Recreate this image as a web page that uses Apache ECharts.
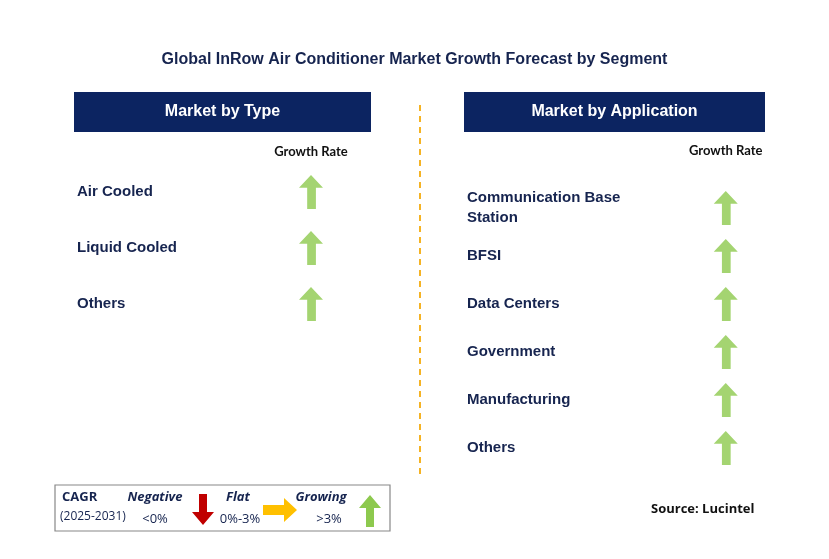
<!DOCTYPE html>
<html><head><meta charset="utf-8">
<script src="https://cdn.jsdelivr.net/npm/echarts@6/dist/echarts.min.js"></script>
<style>html,body{margin:0;padding:0;background:#fff}#c{width:829px;height:559px}</style>
</head><body><div id="c"></div>
<script>
const title = 'Global InRow Air Conditioner Market Growth Forecast by Segment';
const typeCategories = ['Air Cooled', 'Liquid Cooled', 'Others'];
const typeGrowth = ['up', 'up', 'up'];
const appCategories = ['Communication Base\nStation', 'BFSI', 'Data Centers', 'Government', 'Manufacturing', 'Others'];
const appGrowth = ['up', 'up', 'up', 'up', 'up', 'up'];
const colHeader = ['', 'Growth Rate'];

const NAVY = '#0c2461', TXT = '#16244f', GREEN = '#8dc94e';
const UP = 'path://M10,0 L21,12 L14.5,12 L14.5,32 L6.5,32 L6.5,12 L-1,12 Z';
const FONT = 'Liberation Sans';

function panel(idx, cats, growth, margin) {
  return {
    x: {gridIndex: idx, type: 'category', data: colHeader, position: 'top',
        axisLine: {show: false}, axisTick: {show: false}, splitLine: {show: false},
        axisLabel: {margin: margin, color: '#111', fontFamily: 'Lato', fontWeight: 'bold', fontSize: 13}},
    y: {gridIndex: idx, type: 'category', data: cats, inverse: true,
        axisLine: {show: false}, axisTick: {show: false}, splitLine: {show: false},
        axisLabel: {inside: true, margin: 0, align: 'left', color: TXT, fontFamily: FONT,
          fontWeight: 'bold', fontSize: 15, lineHeight: 20}},
    s: {type: 'scatter', xAxisIndex: idx, yAxisIndex: idx, symbol: UP, symbolSize: [24, 34],
        itemStyle: {color: GREEN}, silent: true,
        data: cats.map((c, i) => growth[i] === 'up' ? [colHeader[1], c] : null).filter(Boolean)}
  };
}
const L = panel(0, typeCategories, typeGrowth, 6);
const R = panel(1, appCategories, appGrowth, 27);

const chart = echarts.init(document.getElementById('c'));
chart.setOption({
  animation: false,
  title: {text: title, left: 'center', top: 47, textStyle: {color: TXT, fontFamily: FONT, fontWeight: 'bold', fontSize: 16}},
  grid: [
    {left: 77, top: 164, width: 312, height: 168},
    {left: 467, top: 184, width: 345, height: 288}
  ],
  xAxis: [L.x, R.x], yAxis: [L.y, R.y], series: [L.s, R.s],
  graphic: [
    {type: 'rect', shape: {x: 74, y: 92, width: 297, height: 40}, style: {fill: NAVY}},
    {type: 'text', x: 222.5, y: 112, style: {text: 'Market by Type', fill: '#fff', font: 'bold 16px "Liberation Sans"', align: 'center', verticalAlign: 'middle'}},
    {type: 'rect', shape: {x: 464, y: 92, width: 301, height: 40}, style: {fill: NAVY}},
    {type: 'text', x: 614.5, y: 112, style: {text: 'Market by Application', fill: '#fff', font: 'bold 16px "Liberation Sans"', align: 'center', verticalAlign: 'middle'}},
    {type: 'line', shape: {x1: 420, y1: 105, x2: 420, y2: 478}, style: {stroke: '#f5b324', lineWidth: 2, lineDash: [6, 5]}},
    {type: 'rect', shape: {x: 55, y: 485, width: 335, height: 46}, style: {fill: '#fff', stroke: '#888', lineWidth: 1.2}},
    {type: 'text', x: 62, y: 491, style: {text: 'CAGR', fill: TXT, font: 'bold 13px "Open Sans"'}},
    {type: 'text', x: 60, y: 511, style: {text: '(2025-2031)', fill: TXT, font: '12px "Open Sans"'}},
    {type: 'text', x: 155, y: 497, style: {text: 'Negative', fill: TXT, font: 'italic bold 13px "Open Sans"', align: 'center', verticalAlign: 'middle'}},
    {type: 'text', x: 155, y: 519, style: {text: '<0%', fill: TXT, font: '13px "Open Sans"', align: 'center', verticalAlign: 'middle'}},
    {type: 'polygon', shape: {points: [[199,494],[207,494],[207,512],[214,512],[203,525],[192,512],[199,512]]}, style: {fill: '#c00000'}},
    {type: 'text', x: 238, y: 497, style: {text: 'Flat', fill: TXT, font: 'italic bold 13px "Open Sans"', align: 'center', verticalAlign: 'middle'}},
    {type: 'text', x: 240, y: 519, style: {text: '0%-3%', fill: TXT, font: '13px "Open Sans"', align: 'center', verticalAlign: 'middle'}},
    {type: 'polygon', shape: {points: [[263,505],[284,505],[284,498],[297,510],[284,522],[284,515],[263,515]]}, style: {fill: '#ffc000'}},
    {type: 'text', x: 321, y: 497, style: {text: 'Growing', fill: TXT, font: 'italic bold 13px "Open Sans"', align: 'center', verticalAlign: 'middle'}},
    {type: 'text', x: 329, y: 519, style: {text: '>3%', fill: TXT, font: '13px "Open Sans"', align: 'center', verticalAlign: 'middle'}},
    {type: 'polygon', shape: {points: [[370,495],[381,508],[374,508],[374,527],[366,527],[366,508],[359,508]]}, style: {fill: GREEN}},
    {type: 'text', x: 651, y: 503, style: {text: 'Source: Lucintel', fill: '#111', font: 'bold 13px "Open Sans"'}}
  ]
});
</script></body></html>
